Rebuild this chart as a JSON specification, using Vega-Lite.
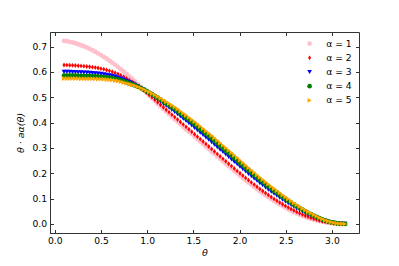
{
"$schema": "https://vega.github.io/schema/vega-lite/v6.json",
"width": 309, "height": 201,
"autosize": {"type": "none"},
"padding": {"left": 50, "top": 32, "right": 40, "bottom": 33},
"background": "white",
"config": {
 "view": {"stroke": "#333", "strokeWidth": 1},
 "font": "DejaVu Sans",
 "axis": {"domainColor": "#333", "tickColor": "#333", "tickSize": -3.5, "labelPadding": 7, "labelFontSize": 9.2, "labelColor": "#000", "labelFont": "DejaVu Sans", "titleFont": "DejaVu Sans", "titleFontSize": 9.5, "titleFontWeight": "normal", "titleColor": "#000", "titleFontStyle": "italic", "grid": false, "domainWidth": 1, "tickWidth": 1}
},
"data": {"values": [
{"t":0.1,"α = 1":0.7230,"α = 2":0.6275,"α = 3":0.6005,"α = 4":0.5855,"α = 5":0.5745},
{"t":0.1307,"α = 1":0.7213,"α = 2":0.6272,"α = 3":0.6004,"α = 4":0.5855,"α = 5":0.5746},
{"t":0.1614,"α = 1":0.7191,"α = 2":0.6268,"α = 3":0.6002,"α = 4":0.5854,"α = 5":0.5746},
{"t":0.1922,"α = 1":0.7164,"α = 2":0.6263,"α = 3":0.5999,"α = 4":0.5853,"α = 5":0.5745},
{"t":0.2229,"α = 1":0.7134,"α = 2":0.6256,"α = 3":0.5994,"α = 4":0.5849,"α = 5":0.5742},
{"t":0.2536,"α = 1":0.7098,"α = 2":0.6249,"α = 3":0.5989,"α = 4":0.5845,"α = 5":0.5739},
{"t":0.2843,"α = 1":0.7059,"α = 2":0.6241,"α = 3":0.5983,"α = 4":0.5840,"α = 5":0.5735},
{"t":0.3151,"α = 1":0.7015,"α = 2":0.6231,"α = 3":0.5978,"α = 4":0.5837,"α = 5":0.5734},
{"t":0.3458,"α = 1":0.6967,"α = 2":0.6219,"α = 3":0.5972,"α = 4":0.5836,"α = 5":0.5735},
{"t":0.3765,"α = 1":0.6915,"α = 2":0.6206,"α = 3":0.5966,"α = 4":0.5833,"α = 5":0.5735},
{"t":0.4072,"α = 1":0.6859,"α = 2":0.6191,"α = 3":0.5958,"α = 4":0.5829,"α = 5":0.5734},
{"t":0.4380,"α = 1":0.6799,"α = 2":0.6174,"α = 3":0.5948,"α = 4":0.5822,"α = 5":0.5730},
{"t":0.4687,"α = 1":0.6735,"α = 2":0.6155,"α = 3":0.5935,"α = 4":0.5814,"α = 5":0.5724},
{"t":0.4994,"α = 1":0.6668,"α = 2":0.6133,"α = 3":0.5922,"α = 4":0.5805,"α = 5":0.5719},
{"t":0.5301,"α = 1":0.6597,"α = 2":0.6107,"α = 3":0.5907,"α = 4":0.5796,"α = 5":0.5714},
{"t":0.5608,"α = 1":0.6523,"α = 2":0.6078,"α = 3":0.5889,"α = 4":0.5784,"α = 5":0.5706},
{"t":0.5916,"α = 1":0.6446,"α = 2":0.6045,"α = 3":0.5867,"α = 4":0.5767,"α = 5":0.5695},
{"t":0.6223,"α = 1":0.6366,"α = 2":0.6009,"α = 3":0.5843,"α = 4":0.5751,"α = 5":0.5683},
{"t":0.6530,"α = 1":0.6283,"α = 2":0.5967,"α = 3":0.5814,"α = 4":0.5729,"α = 5":0.5666},
{"t":0.6837,"α = 1":0.6197,"α = 2":0.5921,"α = 3":0.5781,"α = 4":0.5703,"α = 5":0.5646},
{"t":0.7145,"α = 1":0.6108,"α = 2":0.5869,"α = 3":0.5742,"α = 4":0.5671,"α = 5":0.5619},
{"t":0.7452,"α = 1":0.6018,"α = 2":0.5812,"α = 3":0.5698,"α = 4":0.5634,"α = 5":0.5587},
{"t":0.7759,"α = 1":0.5925,"α = 2":0.5750,"α = 3":0.5649,"α = 4":0.5593,"α = 5":0.5552},
{"t":0.8066,"α = 1":0.5829,"α = 2":0.5683,"α = 3":0.5602,"α = 4":0.5557,"α = 5":0.5525},
{"t":0.8374,"α = 1":0.5732,"α = 2":0.5611,"α = 3":0.5551,"α = 4":0.5517,"α = 5":0.5492},
{"t":0.8681,"α = 1":0.5629,"α = 2":0.5534,"α = 3":0.5493,"α = 4":0.5471,"α = 5":0.5454},
{"t":0.8988,"α = 1":0.5521,"α = 2":0.5453,"α = 3":0.5432,"α = 4":0.5421,"α = 5":0.5413},
{"t":0.9295,"α = 1":0.5410,"α = 2":0.5368,"α = 3":0.5368,"α = 4":0.5368,"α = 5":0.5367},
{"t":0.9603,"α = 1":0.5297,"α = 2":0.5279,"α = 3":0.5298,"α = 4":0.5309,"α = 5":0.5317},
{"t":0.9910,"α = 1":0.5183,"α = 2":0.5187,"α = 3":0.5226,"α = 4":0.5247,"α = 5":0.5263},
{"t":1.0217,"α = 1":0.5072,"α = 2":0.5094,"α = 3":0.5152,"α = 4":0.5185,"α = 5":0.5208},
{"t":1.0524,"α = 1":0.4961,"α = 2":0.4998,"α = 3":0.5076,"α = 4":0.5119,"α = 5":0.5151},
{"t":1.0831,"α = 1":0.4853,"α = 2":0.4902,"α = 3":0.4999,"α = 4":0.5053,"α = 5":0.5093},
{"t":1.1139,"α = 1":0.4746,"α = 2":0.4804,"α = 3":0.4919,"α = 4":0.4983,"α = 5":0.5029},
{"t":1.1446,"α = 1":0.4641,"α = 2":0.4706,"α = 3":0.4836,"α = 4":0.4908,"α = 5":0.4960},
{"t":1.1753,"α = 1":0.4537,"α = 2":0.4608,"α = 3":0.4753,"α = 4":0.4833,"α = 5":0.4892},
{"t":1.2060,"α = 1":0.4434,"α = 2":0.4510,"α = 3":0.4670,"α = 4":0.4758,"α = 5":0.4823},
{"t":1.2368,"α = 1":0.4333,"α = 2":0.4413,"α = 3":0.4588,"α = 4":0.4685,"α = 5":0.4756},
{"t":1.2675,"α = 1":0.4233,"α = 2":0.4316,"α = 3":0.4506,"α = 4":0.4611,"α = 5":0.4688},
{"t":1.2982,"α = 1":0.4133,"α = 2":0.4219,"α = 3":0.4422,"α = 4":0.4535,"α = 5":0.4618},
{"t":1.3289,"α = 1":0.4034,"α = 2":0.4122,"α = 3":0.4333,"α = 4":0.4450,"α = 5":0.4536},
{"t":1.3597,"α = 1":0.3935,"α = 2":0.4025,"α = 3":0.4243,"α = 4":0.4364,"α = 5":0.4453},
{"t":1.3904,"α = 1":0.3838,"α = 2":0.3929,"α = 3":0.4154,"α = 4":0.4279,"α = 5":0.4371},
{"t":1.4211,"α = 1":0.3741,"α = 2":0.3833,"α = 3":0.4065,"α = 4":0.4195,"α = 5":0.4289},
{"t":1.4518,"α = 1":0.3643,"α = 2":0.3736,"α = 3":0.3976,"α = 4":0.4109,"α = 5":0.4207},
{"t":1.4825,"α = 1":0.3546,"α = 2":0.3640,"α = 3":0.3887,"α = 4":0.4024,"α = 5":0.4125},
{"t":1.5133,"α = 1":0.3448,"α = 2":0.3543,"α = 3":0.3795,"α = 4":0.3936,"α = 5":0.4039},
{"t":1.5440,"α = 1":0.3350,"α = 2":0.3446,"α = 3":0.3701,"α = 4":0.3843,"α = 5":0.3947},
{"t":1.5747,"α = 1":0.3252,"α = 2":0.3349,"α = 3":0.3607,"α = 4":0.3751,"α = 5":0.3856},
{"t":1.6054,"α = 1":0.3154,"α = 2":0.3252,"α = 3":0.3513,"α = 4":0.3658,"α = 5":0.3765},
{"t":1.6362,"α = 1":0.3056,"α = 2":0.3154,"α = 3":0.3418,"α = 4":0.3565,"α = 5":0.3672},
{"t":1.6669,"α = 1":0.2959,"α = 2":0.3057,"α = 3":0.3324,"α = 4":0.3472,"α = 5":0.3581},
{"t":1.6976,"α = 1":0.2862,"α = 2":0.2960,"α = 3":0.3230,"α = 4":0.3380,"α = 5":0.3489},
{"t":1.7283,"α = 1":0.2764,"α = 2":0.2862,"α = 3":0.3132,"α = 4":0.3282,"α = 5":0.3392},
{"t":1.7591,"α = 1":0.2666,"α = 2":0.2764,"α = 3":0.3034,"α = 4":0.3184,"α = 5":0.3294},
{"t":1.7898,"α = 1":0.2569,"α = 2":0.2667,"α = 3":0.2937,"α = 4":0.3087,"α = 5":0.3197},
{"t":1.8205,"α = 1":0.2472,"α = 2":0.2570,"α = 3":0.2840,"α = 4":0.2990,"α = 5":0.3100},
{"t":1.8512,"α = 1":0.2376,"α = 2":0.2474,"α = 3":0.2744,"α = 4":0.2894,"α = 5":0.3004},
{"t":1.8820,"α = 1":0.2280,"α = 2":0.2378,"α = 3":0.2648,"α = 4":0.2798,"α = 5":0.2908},
{"t":1.9127,"α = 1":0.2185,"α = 2":0.2282,"α = 3":0.2551,"α = 4":0.2700,"α = 5":0.2810},
{"t":1.9434,"α = 1":0.2091,"α = 2":0.2188,"α = 3":0.2454,"α = 4":0.2602,"α = 5":0.2710},
{"t":1.9741,"α = 1":0.1997,"α = 2":0.2094,"α = 3":0.2357,"α = 4":0.2503,"α = 5":0.2610},
{"t":2.0048,"α = 1":0.1905,"α = 2":0.2001,"α = 3":0.2261,"α = 4":0.2405,"α = 5":0.2511},
{"t":2.0356,"α = 1":0.1813,"α = 2":0.1908,"α = 3":0.2165,"α = 4":0.2308,"α = 5":0.2413},
{"t":2.0663,"α = 1":0.1723,"α = 2":0.1817,"α = 3":0.2071,"α = 4":0.2213,"α = 5":0.2316},
{"t":2.0970,"α = 1":0.1634,"α = 2":0.1727,"α = 3":0.1978,"α = 4":0.2118,"α = 5":0.2220},
{"t":2.1277,"α = 1":0.1547,"α = 2":0.1639,"α = 3":0.1886,"α = 4":0.2023,"α = 5":0.2124},
{"t":2.1585,"α = 1":0.1460,"α = 2":0.1551,"α = 3":0.1793,"α = 4":0.1928,"α = 5":0.2027},
{"t":2.1892,"α = 1":0.1376,"α = 2":0.1466,"α = 3":0.1704,"α = 4":0.1836,"α = 5":0.1933},
{"t":2.2199,"α = 1":0.1293,"α = 2":0.1381,"α = 3":0.1614,"α = 4":0.1744,"α = 5":0.1839},
{"t":2.2506,"α = 1":0.1212,"α = 2":0.1299,"α = 3":0.1528,"α = 4":0.1655,"α = 5":0.1748},
{"t":2.2814,"α = 1":0.1133,"α = 2":0.1218,"α = 3":0.1442,"α = 4":0.1567,"α = 5":0.1658},
{"t":2.3121,"α = 1":0.1056,"α = 2":0.1139,"α = 3":0.1358,"α = 4":0.1480,"α = 5":0.1569},
{"t":2.3428,"α = 1":0.0981,"α = 2":0.1062,"α = 3":0.1275,"α = 4":0.1394,"α = 5":0.1481},
{"t":2.3735,"α = 1":0.0909,"α = 2":0.0988,"α = 3":0.1195,"α = 4":0.1311,"α = 5":0.1395},
{"t":2.4042,"α = 1":0.0838,"α = 2":0.0915,"α = 3":0.1116,"α = 4":0.1228,"α = 5":0.1310},
{"t":2.4350,"α = 1":0.0769,"α = 2":0.0844,"α = 3":0.1039,"α = 4":0.1147,"α = 5":0.1227},
{"t":2.4657,"α = 1":0.0704,"α = 2":0.0776,"α = 3":0.0962,"α = 4":0.1066,"α = 5":0.1142},
{"t":2.4964,"α = 1":0.0641,"α = 2":0.0711,"α = 3":0.0889,"α = 4":0.0987,"α = 5":0.1060},
{"t":2.5271,"α = 1":0.0580,"α = 2":0.0647,"α = 3":0.0816,"α = 4":0.0910,"α = 5":0.0979},
{"t":2.5579,"α = 1":0.0523,"α = 2":0.0587,"α = 3":0.0747,"α = 4":0.0836,"α = 5":0.0902},
{"t":2.5886,"α = 1":0.0468,"α = 2":0.0529,"α = 3":0.0681,"α = 4":0.0765,"α = 5":0.0827},
{"t":2.6193,"α = 1":0.0415,"α = 2":0.0473,"α = 3":0.0615,"α = 4":0.0694,"α = 5":0.0752},
{"t":2.6500,"α = 1":0.0367,"α = 2":0.0421,"α = 3":0.0553,"α = 4":0.0626,"α = 5":0.0680},
{"t":2.6808,"α = 1":0.0320,"α = 2":0.0371,"α = 3":0.0492,"α = 4":0.0560,"α = 5":0.0609},
{"t":2.7115,"α = 1":0.0276,"α = 2":0.0324,"α = 3":0.0435,"α = 4":0.0497,"α = 5":0.0542},
{"t":2.7422,"α = 1":0.0236,"α = 2":0.0280,"α = 3":0.0380,"α = 4":0.0436,"α = 5":0.0477},
{"t":2.7729,"α = 1":0.0200,"α = 2":0.0240,"α = 3":0.0330,"α = 4":0.0380,"α = 5":0.0417},
{"t":2.8036,"α = 1":0.0166,"α = 2":0.0202,"α = 3":0.0282,"α = 4":0.0326,"α = 5":0.0359},
{"t":2.8344,"α = 1":0.0137,"α = 2":0.0167,"α = 3":0.0234,"α = 4":0.0271,"α = 5":0.0298},
{"t":2.8651,"α = 1":0.0112,"α = 2":0.0136,"α = 3":0.0190,"α = 4":0.0220,"α = 5":0.0243},
{"t":2.8958,"α = 1":0.0088,"α = 2":0.0107,"α = 3":0.0150,"α = 4":0.0174,"α = 5":0.0191},
{"t":2.9265,"α = 1":0.0067,"α = 2":0.0082,"α = 3":0.0115,"α = 4":0.0133,"α = 5":0.0147},
{"t":2.9573,"α = 1":0.0050,"α = 2":0.0061,"α = 3":0.0085,"α = 4":0.0099,"α = 5":0.0109},
{"t":2.9880,"α = 1":0.0034,"α = 2":0.0042,"α = 3":0.0059,"α = 4":0.0068,"α = 5":0.0075},
{"t":3.0187,"α = 1":0.0022,"α = 2":0.0027,"α = 3":0.0038,"α = 4":0.0044,"α = 5":0.0048},
{"t":3.0494,"α = 1":0.0012,"α = 2":0.0015,"α = 3":0.0021,"α = 4":0.0025,"α = 5":0.0027},
{"t":3.0801,"α = 1":0.0006,"α = 2":0.0007,"α = 3":0.0010,"α = 4":0.0011,"α = 5":0.0012},
{"t":3.1109,"α = 1":0.0002,"α = 2":0.0002,"α = 3":0.0003,"α = 4":0.0003,"α = 5":0.0004},
{"t":3.1416,"α = 1":0.0,"α = 2":0.0,"α = 3":0.0,"α = 4":0.0,"α = 5":0.0}
]},
"transform": [{"fold": ["α = 1","α = 2","α = 3","α = 4","α = 5"], "as": ["alpha","v"]}],
"layer": [
 {"mark": {"type": "point", "filled": true, "size": 24, "opacity": 1, "strokeWidth": 0},
  "encoding": {
   "x": {"field": "t", "type": "quantitative", "scale": {"domain": [-0.052, 3.293], "nice": false, "zero": false},
         "axis": {"orient": "bottom", "values": [0,0.5,1,1.5,2,2.5,3], "format": ".1f", "title": "θ", "titlePadding": 2}},
   "y": {"field": "v", "type": "quantitative", "scale": {"domain": [-0.036, 0.758], "nice": false, "zero": false},
         "axis": {"orient": "left", "values": [0,0.1,0.2,0.3,0.4,0.5,0.6,0.7], "format": ".1f", "title": "θ · aα(θ)", "titlePadding": 6}},
   "color": {"field": "alpha", "type": "nominal",
     "scale": {"domain": ["α = 1","α = 2","α = 3","α = 4","α = 5"], "range": ["pink","red","blue","green","orange"]},
     "legend": {"orient": "none", "legendX": 255, "legendY": 7, "title": null, "padding": 0, "labelFontSize": 9.2, "labelFont": "DejaVu Sans", "labelColor": "#000", "labelOffset": 12, "rowPadding": 4.2, "symbolSize": 22, "symbolStrokeWidth": 0}},
   "shape": {"field": "alpha", "type": "nominal",
     "scale": {"domain": ["α = 1","α = 2","α = 3","α = 4","α = 5"], "range": ["circle","M0,-1L0.65,0L0,1L-0.65,0Z","triangle-down","circle","triangle-right"]},
     "legend": {"orient": "none", "legendX": 255, "legendY": 7, "title": null, "padding": 0, "labelFontSize": 9.2, "labelFont": "DejaVu Sans", "labelColor": "#000", "labelOffset": 12, "rowPadding": 4.2, "symbolSize": 22, "symbolStrokeWidth": 0}},
   "order": {"field": "alpha"}
  }},
 {"mark": {"type": "point", "opacity": 0},
  "encoding": {
   "x": {"field": "t", "type": "quantitative", "scale": {"domain": [-0.052, 3.293], "nice": false, "zero": false},
         "axis": {"orient": "top", "values": [0,0.5,1,1.5,2,2.5,3], "labels": false, "title": null, "domain": false}},
   "y": {"field": "v", "type": "quantitative", "scale": {"domain": [-0.036, 0.758], "nice": false, "zero": false},
         "axis": {"orient": "right", "values": [0,0.1,0.2,0.3,0.4,0.5,0.6,0.7], "labels": false, "title": null, "domain": false}}
  }}
],
"resolve": {"axis": {"x": "independent", "y": "independent"}}
}
